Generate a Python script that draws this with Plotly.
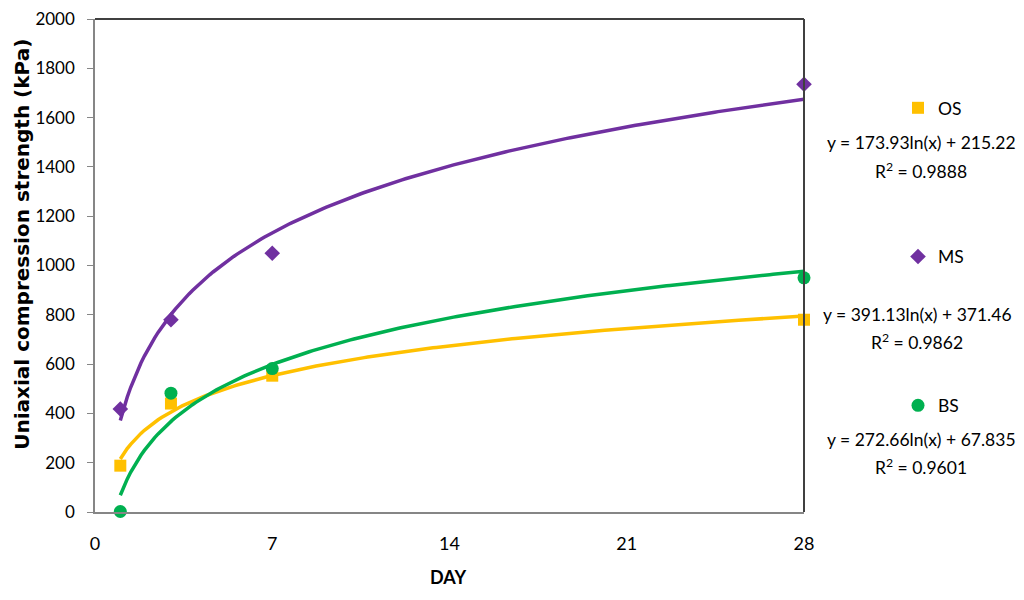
import numpy as np
import plotly.graph_objects as go

days = [1, 3, 7, 28]
os_vals = [188, 440, 553, 780]
ms_vals = [418, 780, 1050, 1735]
bs_vals = [2, 482, 582, 950]

# trendline coefficients as printed on the chart: y = a ln(x) + b
os_fit = (173.93, 215.22, "0.9888")
ms_fit = (391.13, 371.46, "0.9862")
bs_fit = (272.66, 67.835, "0.9601")

x_ticks = [0, 7, 14, 21, 28]
y_ticks = list(range(0, 2001, 200))

C_OS = "#FFC000"
C_MS = "#7030A0"
C_BS = "#00B050"

OFF = 8  # page body offset
W, H = 1024, 600
L = 95 - OFF
T = 19 - OFF
R = W - (804 - OFF)
B = H - (512.5 - OFF)
PW = W - L - R
PH = H - T - B


def px(sx):
    return (sx - OFF - L) / PW


def py(sy):
    return (H - B - (sy - OFF)) / PH


fig = go.Figure()
xx = np.linspace(1, 28, 200)

series = [
    ("OS", os_vals, os_fit, C_OS, "square", 12),
    ("MS", ms_vals, ms_fit, C_MS, "diamond", 12),
    ("BS", bs_vals, bs_fit, C_BS, "circle", 13),
]

for i, (name, vals, fit, col, sym, sz) in enumerate(series):
    a, b, r2 = fit
    fig.add_trace(go.Scatter(
        x=xx, y=a * np.log(xx) + b, mode="lines",
        line=dict(color=col, width=3.5), showlegend=False, hoverinfo="skip",
    ))

for i, (name, vals, fit, col, sym, sz) in enumerate(series):
    fig.add_trace(go.Scatter(
        x=days, y=vals, mode="markers", name=name,
        marker=dict(color=col, symbol=sym, size=sz),
        cliponaxis=False, legendgroup=name,
    ))

font_tick = "Lato, 'Open Sans', sans-serif"

ann = []
eq_pos = [(921, 143, 171), (917, 315, 342), (921, 440, 467)]
for (name, vals, fit, col, sym, sz), (cx, ey, ry) in zip(series, eq_pos):
    a, b, r2 = fit
    bstr = f"{b:g}"
    ann.append(dict(x=px(cx), y=py(ey), xref="paper", yref="paper",
                    text=f"y = {a:.2f}ln(x) + {bstr}", showarrow=False,
                    font=dict(family=font_tick, size=17.5, color="#000000"),
                    xanchor="center", yanchor="middle"))
    ann.append(dict(x=px(cx), y=py(ry), xref="paper", yref="paper",
                    text=f"R<sup>2</sup> = {r2}", showarrow=False,
                    font=dict(family=font_tick, size=17.5, color="#000000"),
                    xanchor="center", yanchor="middle"))

ann.append(dict(x=px(22), y=py(245), xref="paper", yref="paper",
                text="<b>Uniaxial compression strength (kPa)</b>", textangle=-90,
                showarrow=False, font=dict(family="DejaVu Sans", size=20, color="#000000"),
                xanchor="center", yanchor="middle"))
ann.append(dict(x=px(448), y=py(578), xref="paper", yref="paper",
                text="<b>DAY</b>", showarrow=False,
                font=dict(family=font_tick, size=18, color="#000000"),
                xanchor="center", yanchor="middle"))

shapes = [
    dict(type="line", xref="paper", yref="paper", x0=0, x1=1, y0=1, y1=1,
         line=dict(color="#404040", width=2)),
    dict(type="line", xref="paper", yref="paper", x0=1, x1=1, y0=0, y1=1,
         line=dict(color="#404040", width=2)),
]

fig.update_layout(
    width=W, height=H,
    margin=dict(l=L, r=R, t=T, b=B, autoexpand=False),
    paper_bgcolor="white", plot_bgcolor="white",
    annotations=ann, shapes=shapes,
    legend=dict(x=px(898), y=py(90), xref="paper", yref="paper",
                xanchor="left", yanchor="top",
                tracegroupgap=123, itemwidth=30,
                font=dict(family=font_tick, size=17.5, color="#000000"),
                bgcolor="rgba(0,0,0,0)"),
    xaxis=dict(range=[0, 28], tickvals=x_ticks, ticktext=[str(v) for v in x_ticks],
               showgrid=False, zeroline=False, showline=True, linecolor="#868686",
               linewidth=1.5, ticks="", ticklabelstandoff=15,
               ticklabeloverflow="allow",
               tickfont=dict(family=font_tick, size=18, color="#000000")),
    yaxis=dict(range=[0, 2000], tickvals=y_ticks, ticktext=[str(v) for v in y_ticks],
               showgrid=False, zeroline=False, showline=True, linecolor="#868686",
               linewidth=1.5, ticks="outside", ticklen=6, tickcolor="#868686",
               ticklabelstandoff=9, ticklabeloverflow="allow",
               tickfont=dict(family=font_tick, size=17, color="#000000")),
)

fig.write_html("out.html")
